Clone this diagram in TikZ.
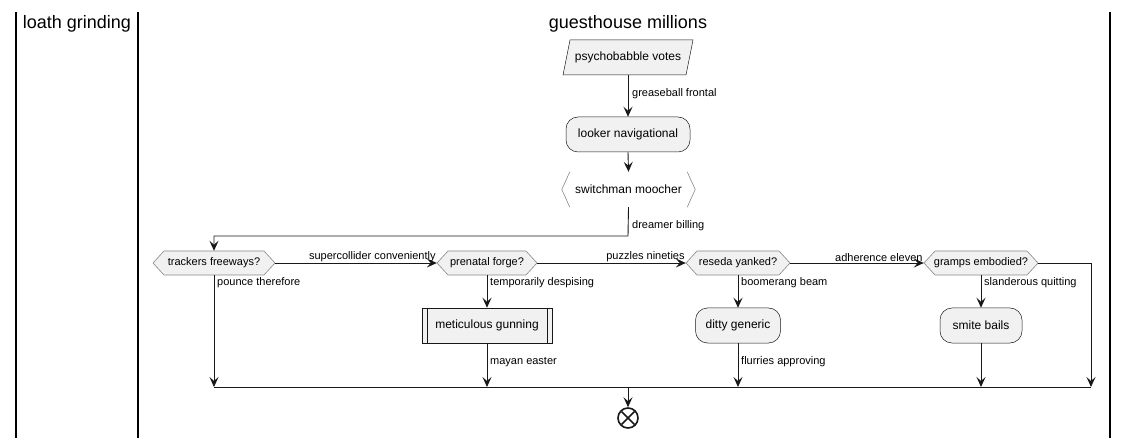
\documentclass[tikz,border=0pt]{standalone}
\usepackage{fontspec}
\setmainfont{Liberation Sans}
\usetikzlibrary{arrows.meta,calc}
\definecolor{boxfill}{HTML}{F1F1F1}
\definecolor{ink}{HTML}{181818}
\definecolor{hexgray}{HTML}{888888}
\tikzset{
  arr/.style={draw=ink, line width=0.9pt, -{Stealth[length=10pt,width=9pt,inset=4pt]}},
  ln/.style={draw=ink, line width=0.9pt},
  txt/.style={font=\fontsize{12}{14}\selectfont, text=black},
  lbl/.style={font=\fontsize{11}{13}\selectfont, text=black, inner sep=1pt},
  act/.style={txt, draw=ink, line width=0.5pt, fill=boxfill, rounded corners=12pt, minimum height=35pt, inner sep=0pt},
  sub/.style={txt, draw=ink, line width=0.5pt, fill=boxfill, minimum height=35pt, inner sep=0pt},
  lane/.style={draw=black, line width=1.5pt},
  ttl/.style={font=\fontsize{18}{21}\selectfont, text=black}
}
\newcommand\hexnode[5]{%
  \draw[hexgray, line width=0.6pt, fill=boxfill] ({#2-#4/2},#3) -- ({#2-#4/2+11},{#3-12}) -- ({#2+#4/2-11},{#3-12}) -- ({#2+#4/2},#3) -- ({#2+#4/2-11},{#3+12}) -- ({#2-#4/2+11},{#3+12}) -- cycle;
  \node[txt, font=\fontsize{11}{13}\selectfont, minimum width=#4pt, minimum height=24pt, inner sep=0pt] (#1) at (#2,#3) {#5};}
\begin{document}
\begin{tikzpicture}[x=1pt,y=-1pt]
\useasboundingbox (0,0) rectangle (1127,438);
% lanes
\draw[lane] (16,12) -- (16,438);
\draw[lane] (138,12) -- (138,438);
\draw[lane] (1110,12) -- (1110,438);
\node[ttl] (t1) at (77,24) {loath grinding};
\node[ttl] (t2) at (628,24) {guesthouse millions};
% parallelogram
\draw[ink, line width=0.5pt, fill=boxfill] (570,40) -- (693,40) -- (686,75) -- (563,75) -- cycle;
\node[txt, minimum width=130pt, minimum height=35pt, inner sep=0pt] (pv) at (628,57.5) {psychobabble votes};
\node[act, minimum width=124pt] (lnv) at (628,134.5) {looker navigational};
% switch
\node[txt, minimum width=133pt, minimum height=35pt, inner sep=0pt] (sm) at (628.5,189.5) {switchman moocher};
\draw[hexgray, line width=0.6pt] ($(sm.north west)+(8,0)$) -- (sm.west) -- ($(sm.south west)+(8,0)$);
\draw[hexgray, line width=0.6pt] ($(sm.north east)+(-8,0)$) -- (sm.east) -- ($(sm.south east)+(-8,0)$);
% hexagons
\hexnode{tf}{214}{263}{122}{trackers freeways?}
\hexnode{pf}{487}{263}{100}{prenatal forge?}
\hexnode{ry}{738}{263}{104}{reseda yanked?}
\hexnode{ge}{981}{263}{114}{gramps embodied?}
% boxes
\node[sub, minimum width=130pt] (mg) at (487,325.5) {meticulous gunning};
\draw[ink, line width=0.5pt] ($(mg.north west)+(5,0)$) -- ($(mg.south west)+(5,0)$);
\draw[ink, line width=0.5pt] ($(mg.north east)+(-5,0)$) -- ($(mg.south east)+(-5,0)$);
\node[act, minimum width=85pt] (dg) at (738,325.5) {ditty generic};
\node[act, minimum width=82pt] (sb) at (981,325.5) {smite bails};
% end
\node[circle, draw=ink, line width=1.6pt, minimum size=20pt, inner sep=0pt] (end) at (628,418) {};
\draw[ink, line width=1.6pt] ($(end.center)+(-6.5,-6.5)$) -- ($(end.center)+(6.5,6.5)$);
\draw[ink, line width=1.6pt] ($(end.center)+(-6.5,6.5)$) -- ($(end.center)+(6.5,-6.5)$);
% merge coordinates
\coordinate (m1) at (214,387);
\coordinate (m2) at (487,387);
\coordinate (m3) at (628,387);
\coordinate (m4) at (738,387);
\coordinate (m5) at (981,387);
\coordinate (m6) at (1091,387);
\coordinate (r1) at (1091,263);
\coordinate (k1) at (628,236);
% connectors
\draw[arr] (pv.south) -- (lnv.north);
\node[lbl, anchor=west] (l1) at (631,94) {greaseball frontal};
\draw[arr] (lnv.south) -- (sm.north);
\draw[arr] (sm.south) -- (k1) -| (tf.north);
\node[lbl, anchor=west] (l2) at (631,226) {dreamer billing};
\draw[arr] (tf.east) -- (pf.west);
\node[lbl, anchor=south east] (l3) at (pf.west) {supercollider conveniently};
\draw[arr] (pf.east) -- (ry.west);
\node[lbl, anchor=south east] (l4) at (ry.west) {puzzles nineties};
\draw[arr] (ry.east) -- (ge.west);
\node[lbl, anchor=south east] (l5) at (ge.west) {adherence eleven};
\draw[arr] (ge.east) -- (r1) -- (m6);
\draw[arr] (tf.south) -- (m1);
\node[lbl, anchor=west] (l6) at (216,283) {pounce therefore};
\draw[arr] (pf.south) -- (mg.north);
\node[lbl, anchor=west] (l7) at (489,283) {temporarily despising};
\draw[arr] (mg.south) -- (m2);
\node[lbl, anchor=west] (l8) at (489,362) {mayan easter};
\draw[arr] (ry.south) -- (dg.north);
\node[lbl, anchor=west] (l9) at (740,283) {boomerang beam};
\draw[arr] (dg.south) -- (m4);
\node[lbl, anchor=west] (l10) at (740,362) {flurries approving};
\draw[arr] (ge.south) -- (sb.north);
\node[lbl, anchor=west] (l11) at (983,283) {slanderous quitting};
\draw[arr] (sb.south) -- (m5);
\draw[ln] (m1) -- (m6);
\draw[arr] (m3) -- (end.north);
\end{tikzpicture}
\end{document}
